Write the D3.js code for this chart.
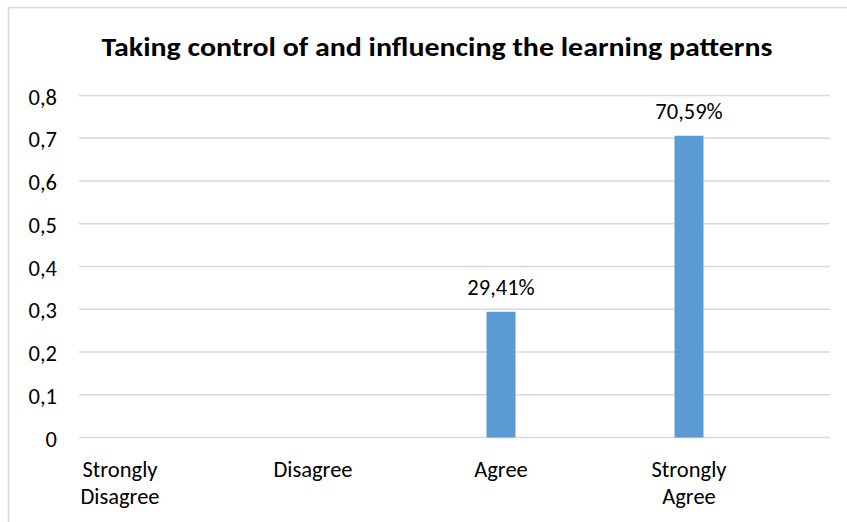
<!DOCTYPE html>
<html>
<head>
<meta charset="utf-8">
<script src="https://cdn.jsdelivr.net/npm/d3@7/dist/d3.min.js"></script>
<style>
  html, body { margin: 0; padding: 0; background: #fff; }
  svg { display: block; font-family: Carlito, Calibri, Lato, sans-serif; }
</style>
</head>
<body>
<svg id="chart" width="847" height="522"></svg>
<script>
// Survey responses for the statement
const chartTitle = "Taking control of and influencing the learning patterns";
const categories = [["Strongly", "Disagree"], ["Disagree"], ["Agree"], ["Strongly", "Agree"]];
const values = [null, null, 0.2941, 0.7059];
const valueLabels = ["", "", "29,41%", "70,59%"];
const yTicks = [0, 0.1, 0.2, 0.3, 0.4, 0.5, 0.6, 0.7, 0.8];

const svg = d3.select("#chart");
const W = 847, H = 522;
const fs = 22.5;

// Outer frame (left and top edges visible)
svg.append("path")
  .attr("d", `M8.5,${H} V7.5 H${W}`)
  .attr("fill", "none")
  .attr("stroke", "#d9d9d9")
  .attr("stroke-width", 1.5);

const catKeys = categories.map(c => c.join(" "));
const x = d3.scaleBand().domain(catKeys).range([31, 783]);
const gridX = [79, 830];
const y = d3.scaleLinear().domain([0, 0.8]).range([437.5, 95.5]);

// Title
svg.append("text")
  .attr("x", 437)
  .attr("y", 56)
  .attr("text-anchor", "middle")
  .attr("font-weight", "bold")
  .attr("font-size", 26)
  .attr("fill", "#000")
  .attr("textLength", 671)
  .attr("lengthAdjust", "spacingAndGlyphs")
  .text(chartTitle);

// Horizontal gridlines
svg.append("g").selectAll("line")
  .data(yTicks)
  .join("line")
  .attr("x1", gridX[0]).attr("x2", gridX[1])
  .attr("y1", d => y(d)).attr("y2", d => y(d))
  .attr("stroke", "#d9d9d9")
  .attr("stroke-width", 1.5);

// Y axis labels
const fmt = d => d === 0 ? "0" : d3.format(".1f")(d).replace(".", ",");
svg.append("g").selectAll("text")
  .data(yTicks)
  .join("text")
  .attr("x", 57)
  .attr("y", d => y(d) + 1)
  .attr("dy", "0.36em")
  .attr("text-anchor", "end")
  .attr("font-size", fs)
  .attr("fill", "#000")
  .text(fmt);

// Bars
const barW = 29;
const rows = catKeys.map((k, i) => ({ key: k, value: values[i], label: valueLabels[i] }));
svg.append("g").selectAll("rect")
  .data(rows.filter(d => d.value != null))
  .join("rect")
  .attr("x", d => x(d.key) + x.bandwidth() / 2 - barW / 2)
  .attr("y", d => y(d.value))
  .attr("width", barW)
  .attr("height", d => y(0) - y(d.value))
  .attr("fill", "#5b9bd5");

// Value labels above bars
svg.append("g").selectAll("text")
  .data(rows.filter(d => d.value != null))
  .join("text")
  .attr("x", d => x(d.key) + x.bandwidth() / 2)
  .attr("y", d => y(d.value) - 17)
  .attr("text-anchor", "middle")
  .attr("font-size", fs)
  .attr("fill", "#000")
  .text(d => d.label);

// Category labels (wrapped)
const catG = svg.append("g").selectAll("text")
  .data(categories)
  .join("text")
  .attr("x", (d, i) => x(catKeys[i]) + x.bandwidth() / 2 - (i === 0 ? 5 : 0))
  .attr("y", 477)
  .attr("text-anchor", "middle")
  .attr("font-size", fs)
  .attr("fill", "#000");
catG.selectAll("tspan")
  .data(d => d)
  .join("tspan")
  .attr("x", function () { return d3.select(this.parentNode).attr("x"); })
  .attr("dy", (d, i) => i === 0 ? 0 : 27)
  .text(d => d);
</script>
</body>
</html>
